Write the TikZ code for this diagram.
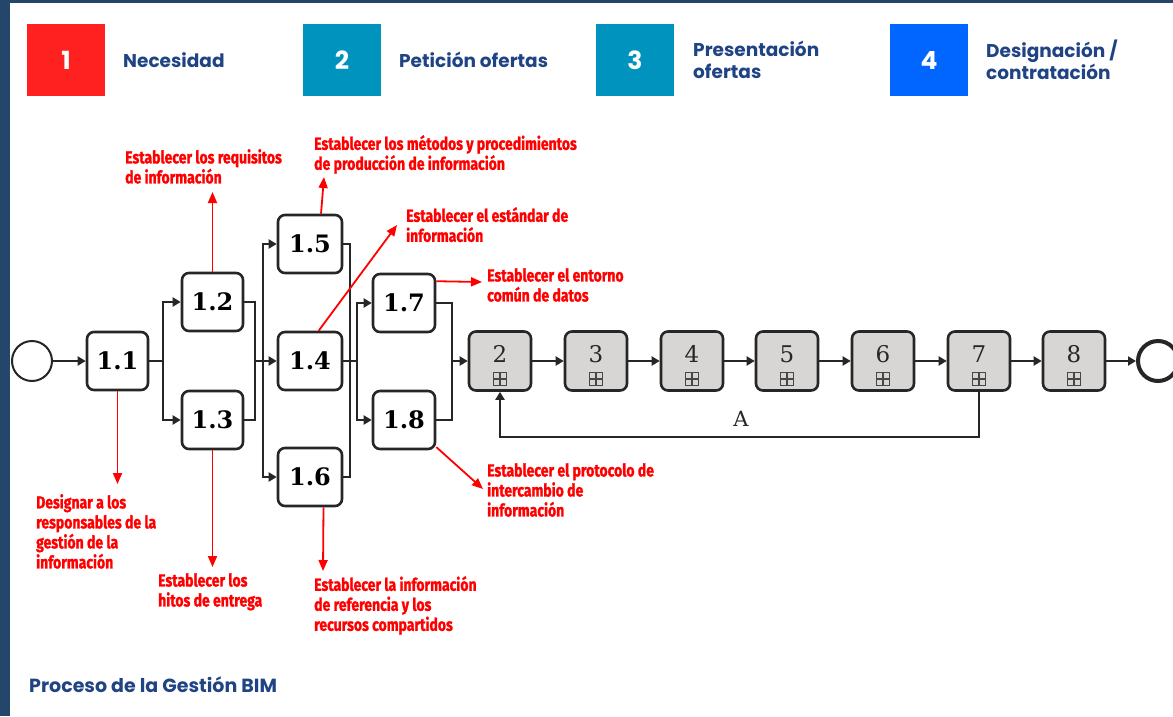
\documentclass[tikz,border=0pt]{standalone}
\usepackage{fontspec}
\usetikzlibrary{arrows.meta}
\newfontfamily\hdrfont{Poppins}
\newfontfamily\notefont[FakeStretch=0.8,FakeBold=1.2]{Fira Sans}
\newfontfamily\taskfont{DejaVu Serif}
\definecolor{navy}{HTML}{23466A}
\definecolor{hdrtext}{HTML}{1F4383}
\definecolor{cred}{HTML}{FF2020}
\definecolor{cteal}{HTML}{0093BE}
\definecolor{cblue}{HTML}{0066FF}
\definecolor{notered}{HTML}{FF0000}
\definecolor{ink}{HTML}{262626}
\definecolor{subfill}{HTML}{D8D5D5}
\begin{document}
\begin{tikzpicture}[x=1pt,y=-1pt,
  stage/.style={minimum width=78pt, minimum height=72pt, inner sep=0pt,
    text=white, font=\hdrfont\bfseries\fontsize{25}{25}\selectfont},
  stagelabel/.style={anchor=west, inner sep=0pt, align=left, text=hdrtext,
    font=\hdrfont\bfseries\fontsize{18.5}{22}\selectfont},
  task/.style={draw=ink, line width=2.6pt, rounded corners=7pt, fill=white,
    minimum width=61pt, minimum height=58pt, inner sep=0pt,
    font=\taskfont\bfseries\fontsize{24}{24}\selectfont},
  sub/.style={draw=ink, line width=2.6pt, rounded corners=7pt, fill=subfill,
    minimum width=62pt, minimum height=59pt, inner sep=0pt},
  subnum/.style={inner sep=0pt, text=ink, font=\taskfont\fontsize{23}{23}\selectfont},
  mk/.style={draw=ink!85, line width=1.1pt},
  event/.style={circle, draw=ink, minimum size=40pt, inner sep=0pt, fill=white},
  wire/.style={draw=ink, line width=2.2pt},
  flow/.style={wire, -{Triangle[length=8pt,width=9pt]}},
  note/.style={anchor=north west, inner sep=0pt, align=left, text=notered,
    font=\notefont\bfseries\fontsize{17.5}{20}\selectfont},
  notearrow/.style={draw=notered, line width=1.8pt, -{Triangle[length=11pt,width=9pt]}}
]
\useasboundingbox (0,0) rectangle (1173,716);
\fill[white] (0,0) rectangle (1173,716);
% frame bars
\fill[navy] (0,0) rectangle (1173,3);
\fill[navy] (0,0) rectangle (10,716);

% stages header
\node[stage, fill=cred]  (h1) at (66,60)  {1};
\node[stage, fill=cteal] (h2) at (342,60) {2};
\node[stage, fill=cteal] (h3) at (635,60) {3};
\node[stage, fill=cblue] (h4) at (929,60) {4};
\node[stagelabel] (l1) at (123,60) {Necesidad};
\node[stagelabel] (l2) at (399,60) {Petición ofertas};
\node[stagelabel] (l3) at (693,60) {Presentación\\ofertas};
\node[stagelabel] (l4) at (986,60) {Designación /\\contratación};

% process
\node[event, line width=2pt] (start) at (32,361) {};
\node[task] (t11) at (117.5,361) {1.1};
\node[task] (t12) at (212.5,302) {1.2};
\node[task] (t13) at (212.5,420) {1.3};
\node[task, minimum width=64pt] (t15) at (310,244) {1.5};
\node[task, minimum width=64pt] (t14) at (310,361) {1.4};
\node[task, minimum width=64pt] (t16) at (310,477) {1.6};
\node[task, minimum width=62pt] (t17) at (404,303) {1.7};
\node[task, minimum width=62pt] (t18) at (404,420) {1.8};

\foreach \n/\x in {2/500,3/596,4/692,5/787,6/883,7/979,8/1074} {
  \node[sub] (s\n) at (\x,361) {};
  \node[subnum] at (\x,354) {\n};
  \draw[mk] (\x-6.5,372.5) rectangle (\x+6.5,385.5);
  \draw[mk] (\x,372.5) -- (\x,385.5) (\x-6.5,379) -- (\x+6.5,379);
}
\node[event, line width=4pt] (end) at (1158,361) {};

% gateways
\coordinate (sp1) at (163,361);
\coordinate (j1) at (255,361);
\coordinate (sp2) at (263,361);
\coordinate (j2) at (350,361);
\coordinate (sp3) at (357,361);
\coordinate (j3) at (452,361);
\coordinate (back) at (0,437);

\draw[flow] (start) -- (t11);
\draw[wire] (t11.east) -- (sp1);
\draw[flow] (sp1) |- (t12.west);
\draw[flow] (sp1) |- (t13.west);
\draw[wire] (t12.east) -| (j1);
\draw[wire] (t13.east) -| (j1);
\draw[wire] (j1) -- (sp2);
\draw[flow] (sp2) |- (t15.west);
\draw[flow] (sp2) -- (t14.west);
\draw[flow] (sp2) |- (t16.west);
\draw[wire] (t15.east) -| (j2);
\draw[wire] (t16.east) -| (j2);
\draw[wire] (t14.east) -- (sp3);
\draw[flow] (sp3) |- (t17.west);
\draw[flow] (sp3) |- (t18.west);
\draw[wire] (t17.east) -| (j3);
\draw[wire] (t18.east) -| (j3);
\draw[flow] (j3) -- (s2.west);
\draw[flow] (s2) -- (s3);
\draw[flow] (s3) -- (s4);
\draw[flow] (s4) -- (s5);
\draw[flow] (s5) -- (s6);
\draw[flow] (s6) -- (s7);
\draw[flow] (s7) -- (s8);
\draw[flow] (s8) -- (end);
\draw[flow] (s7.south) -- (s7.south |- back) -| (s2.south);
\node[subnum, font=\taskfont\fontsize{21}{21}\selectfont] (A) at (741,419) {A};

% annotations
\coordinate (n11) at (117.5,484);
\coordinate (n12) at (212.5,192);
\coordinate (n13) at (212.5,567);
\coordinate (n15) at (324,177);
\coordinate (n14) at (397,225);
\coordinate (n16) at (323,571);
\coordinate (n17) at (482,282);
\coordinate (n18) at (483,489);

\draw[notearrow] (t11.south) -- (n11);
\draw[notearrow] (t12.north) -- (n12);
\draw[notearrow] (t13.south) -- (n13);
\draw[notearrow] (t15.70) -- (n15);
\draw[notearrow] (t14.74) -- (n14);
\draw[notearrow] (t16.-66) -- (n16);
\draw[notearrow] (t17.34) -- (n17);
\draw[notearrow] (t18.-40) -- (n18);

\node[note] (a12) at (125,149) {Establecer los requisitos\\de información};
\node[note] (a15) at (314,135) {Establecer los métodos y procedimientos\\de producción de información};
\node[note] (a14) at (406,207) {Establecer el estándar de\\información};
\node[note] (a17) at (487,268) {Establecer el entorno\\común de datos};
\node[note] (a18) at (487,463) {Establecer el protocolo de\\intercambio de\\información};
\node[note] (a16) at (314,576) {Establecer la información\\de referencia y los\\recursos compartidos};
\node[note] (a11) at (36,494) {Designar a los\\responsables de la\\gestión de la\\información};
\node[note] (a13) at (158,573) {Establecer los\\hitos de entrega};

% caption
\node[stagelabel, font=\hdrfont\bfseries\fontsize{19}{20}\selectfont] (cap) at (29,685) {Proceso de la Gestión BIM};
\end{tikzpicture}
\end{document}
